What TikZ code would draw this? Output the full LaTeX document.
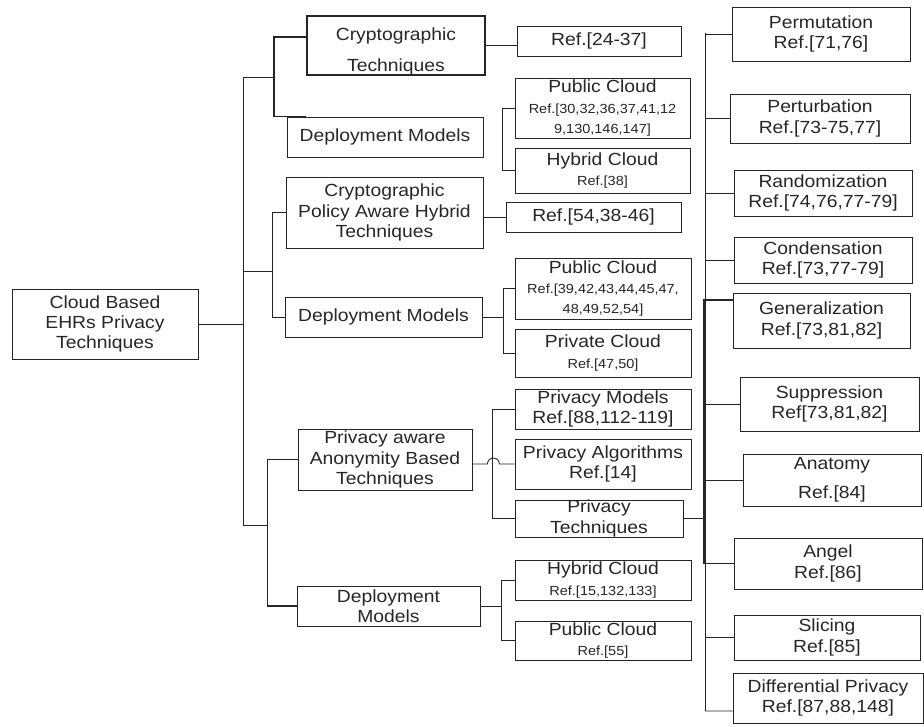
\documentclass[tikz,border=0pt]{standalone}
\usepackage{fontspec}
\setmainfont[FakeStretch=1.1]{Liberation Sans}
\newcommand{\smallref}[1]{{\fontsize{7.5}{10}\selectfont #1}}
\begin{document}
\begin{tikzpicture}[x=0.02cm, y=-0.02cm, line width=0.5pt, color=black!85,
    box/.style n args={2}{draw, align=center, inner sep=0pt, minimum width=#1*0.02cm, minimum height=#2*0.02cm, font=\fontsize{10}{11.5}\selectfont},
    heavy/.style={line width=1pt}]
    \useasboundingbox (0,0) rectangle (924,727);
    % left and middle
    \node[box={186}{70}] (root) at (105,324) {Cloud Based\\EHRs Privacy\\Techniques};
    \node[box={178}{59}, heavy] (crypt) at (396,45.5) {\rule{0pt}{14pt}Cryptographic\\[6pt]Techniques};
    \node[box={164}{30}] (ref1) at (599,41) {Ref.[24-37]};
    \node[box={196}{40}] (dep1) at (385,137) {Deployment Models};
    \node[box={175}{60}] (pub1) at (602.5,108) {Public Cloud\\\smallref{Ref.[30,32,36,37,41,12}\\\smallref{9,130,146,147]}};
    \node[box={175}{45}] (hyb1) at (602.5,170.5) {Hybrid Cloud\\\smallref{Ref.[38]}};
    \node[box={197}{71}] (cpah) at (384.5,212.5) {Cryptographic\\Policy Aware Hybrid\\Techniques};
    \node[box={175}{30}] (ref2) at (593.5,217) {Ref.[54,38-46]};
    \node[box={197}{40}] (dep2) at (383.5,317) {Deployment Models};
    \node[box={176}{61}] (pub2) at (603,288.5) {Public Cloud\\\smallref{Ref.[39,42,43,44,45,47,}\\\smallref{48,49,52,54]}};
    \node[box={176}{48}] (priv) at (603,353) {Private Cloud\\\smallref{Ref.[47,50]}};
    \node[box={174}{61}] (pam) at (385,459.5) {Privacy aware\\Anonymity Based\\Techniques};
    \node[box={176}{40}] (pmod) at (603,409) {Privacy Models\\Ref.[88,112-119]};
    \node[box={176}{50}] (palg) at (603,464) {Privacy Algorithms\\Ref.[14]};
    \node[box={168}{37}] (ptech) at (599,518.5) {Privacy\\Techniques};
    \node[box={183}{40}] (dep3) at (388.5,606) {Deployment\\Models};
    \node[box={176}{40}] (hyb2) at (603,580) {Hybrid Cloud\\\smallref{Ref.[15,132,133]}};
    \node[box={176}{39}] (pub3) at (603,640.5) {Public Cloud\\\smallref{Ref.[55]}};
    % right column
    \node[box={178}{54}] (perm) at (821,34) {Permutation\\Ref.[71,76]};
    \node[box={180}{49}] (pert) at (820,118.5) {Perturbation\\Ref.[73-75,77]};
    \node[box={178}{46}] (rand) at (823,193) {Randomization\\Ref.[74,76,77-79]};
    \node[box={178}{46}] (cond) at (823,260) {Condensation\\Ref.[73,77-79]};
    \node[box={177}{55}] (gen) at (821.5,320.5) {Generalization\\Ref.[73,81,82]};
    \node[box={179}{54}] (supp) at (829.5,404) {Suppression\\Ref[73,81,82]};
    \node[box={178}{52}] (anat) at (832,480) {Anatomy\\[5pt]Ref.[84]};
    \node[box={188}{51}] (angel) at (828,563.5) {Angel\\Ref.[86]};
    \node[box={186}{45}] (slic) at (827,637.5) {Slicing\\Ref.[85]};
    \node[box={190}{50}] (diff) at (828,698) {Differential Privacy\\Ref.[87,88,148]};
    \coordinate (tr) at (243,324);
    \coordinate (g1) at (275,77);
    \coordinate (g2) at (273,271);
    \coordinate (g3) at (268,525);
    \coordinate (rt) at (705,33);
    \coordinate (rb) at (705,711);
    \draw (root.east) -- (tr);
    \draw (g1) -| (tr);
    \draw (g3) -| (tr);
    \draw (g2) -- (g2 -| tr);
    \draw[heavy] ([yshift=4.8pt]crypt.west) -- ++(-32,0) |- (dep1.north west -| crypt.west);
    \draw (crypt.east) -- (crypt.east -| ref1.west);
    \draw (pub1.west) -- ++(-12,0) |- (hyb1.west);
    \draw (cpah.west) -- ++(-13,0) |- (dep2.west);
    \draw (ref2.west) -- (ref2.west -| cpah.east);
    \draw (dep2.east) -- ++(22,0);
    \draw (pub2.west) -- ++(-11,0) |- (priv.west);
    \draw[heavy] (pam.west) -- ++(-30,0) |- (dep3.west);
    \draw (pmod.west) -- ++(-22,0) |- (ptech.west);
    \draw (pam.east |- palg.west) -- ++(15,0) arc (180:0:3.4pt) -- (palg.west);
    \draw (dep3.east) -- ++(22,0);
    \draw (hyb2.west) -- ++(-13,0) |- (pub3.west);
    \draw (ptech.east) -- (ptech.east -| rt);
    \draw (rt) -- (rb);
    \draw[heavy] ([yshift=11.6pt]gen.west) -- ++(-28.5,0) coordinate (gt) -- (gt |- angel.west) -- (angel.west);
    \foreach \n in {perm,pert,rand,cond,supp,anat,slic}
        \draw (\n.west) -- (\n.west -| rt);
    \draw ([yshift=-7.4pt]diff.west) -- (rb);
\end{tikzpicture}
\end{document}
